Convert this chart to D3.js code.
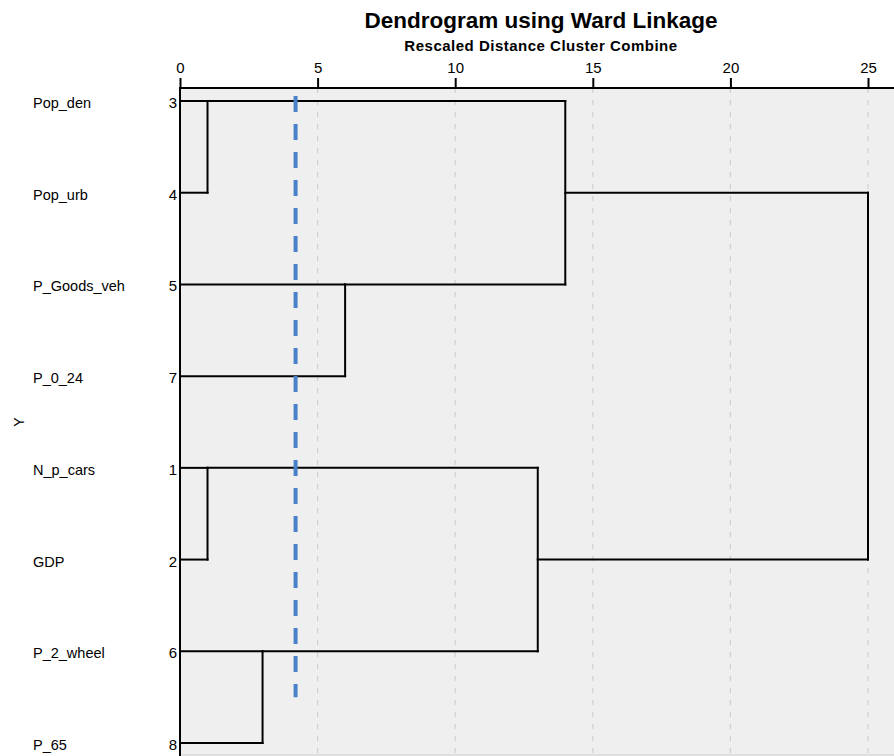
<!DOCTYPE html>
<html>
<head>
<meta charset="utf-8">
<script src="https://cdn.jsdelivr.net/npm/d3@7"></script>
<style>
  body { margin: 0; background: #fff; }
  svg { display: block; font-family: "Liberation Sans", Arial, sans-serif; }
</style>
</head>
<body>
<div id="chart"></div>
<script>
// Dendrogram using Ward linkage, rescaled distance 0-25

// leaf order, top to bottom
const caseIds = ["3", "4", "5", "7", "1", "2", "6", "8"];
const caseNames = ["Pop_den", "Pop_urb", "P_Goods_veh", "P_0_24", "N_p_cars", "GDP", "P_2_wheel", "P_65"];

// merges: [first cluster, second cluster, rescaled distance]
// clusters are named by their leaf ids, new clusters get "c" + index
const mergeA = ["3", "1", "6", "5", "c0", "c1", "c4"];
const mergeB = ["4", "2", "8", "7", "c3", "c2", "c5"];
const mergeDist = [1, 1, 3, 6, 14, 13, 25];

const xTicks = [0, 5, 10, 15, 20, 25];
const cutoff = 4.2;

const W = 894, H = 756;
const plot = { left: 180, top: 88, right: 902, bottom: 755 };

const svg = d3.select("#chart")
    .append("svg")
    .attr("width", W)
    .attr("height", H);

// scales
const x = d3.scaleLinear()
    .domain([0, 25])
    .range([180, 868]);

const y = d3.scalePoint()
    .domain(caseIds)
    .range([101, 743]);

// plot background
svg.append("rect")
    .attr("x", plot.left)
    .attr("y", plot.top)
    .attr("width", plot.right - plot.left)
    .attr("height", plot.bottom - plot.top)
    .attr("fill", "#efefef")
    .attr("stroke", "#c8c8c8")
    .attr("stroke-width", 1);

// vertical dashed grid lines
svg.append("g")
    .selectAll("line")
    .data(xTicks.filter(d => d > 0))
    .enter().append("line")
    .attr("x1", d => x(d))
    .attr("x2", d => x(d))
    .attr("y1", plot.top)
    .attr("y2", plot.bottom)
    .attr("stroke", "#cfcfcf")
    .attr("stroke-width", 1.2)
    .attr("stroke-dasharray", "5,7");

// top axis
const xAxis = svg.append("g")
    .attr("transform", `translate(0,${plot.top})`)
    .call(d3.axisTop(x).tickValues(xTicks).tickSize(10).tickSizeOuter(0).tickPadding(5));
xAxis.select(".domain")
    .attr("d", `M${plot.left},0H${W}`)
    .attr("stroke", "#000")
    .attr("stroke-width", 2);
xAxis.selectAll(".tick line").attr("stroke", "#000").attr("stroke-width", 2);
xAxis.selectAll(".tick text")
    .attr("fill", "#000")
    .style("font-size", "15px")
    .style("font-family", "'Liberation Sans', Arial, sans-serif");

// left axis line
svg.append("line")
    .attr("x1", plot.left)
    .attr("x2", plot.left)
    .attr("y1", plot.top - 1)
    .attr("y2", H)
    .attr("stroke", "#000")
    .attr("stroke-width", 2);

// case numbers
svg.append("g")
    .selectAll("text")
    .data(caseIds)
    .enter().append("text")
    .attr("x", 177)
    .attr("y", d => y(d) + 7)
    .attr("text-anchor", "end")
    .style("font-size", "15px")
    .attr("fill", "#000")
    .text(d => d);

// case names
svg.append("g")
    .selectAll("text")
    .data(caseNames)
    .enter().append("text")
    .attr("x", 33)
    .attr("y", (d, i) => y(caseIds[i]) + 7)
    .style("font-size", "14.5px")
    .attr("fill", "#000")
    .text(d => d);

// Y label
svg.append("text")
    .attr("transform", "translate(24,422) rotate(-90)")
    .attr("text-anchor", "middle")
    .style("font-size", "14px")
    .attr("fill", "#000")
    .text("Y");

// titles
svg.append("text")
    .attr("x", 541)
    .attr("y", 28)
    .attr("text-anchor", "middle")
    .style("font-size", "22.5px")
    .style("font-weight", "bold")
    .attr("fill", "#000")
    .text("Dendrogram using Ward Linkage");

svg.append("text")
    .attr("x", 541)
    .attr("y", 51)
    .attr("text-anchor", "middle")
    .style("font-size", "15px")
    .style("font-weight", "bold")
    .style("letter-spacing", "0.5px")
    .attr("fill", "#000")
    .text("Rescaled Distance Cluster Combine");

// build dendrogram links
// each cluster keeps the row its link leaves from and its merge height
const nodes = {};
caseIds.forEach((id, i) => { nodes[id] = { row: i, h: 0 }; });

const links = [];
mergeDist.forEach((d, i) => {
    const a = nodes[mergeA[i]], b = nodes[mergeB[i]];
    // horizontal from each child to the merge distance
    links.push({ x0: a.h, x1: d, r0: a.row, r1: a.row });
    links.push({ x0: b.h, x1: d, r0: b.row, r1: b.row });
    // vertical joining the two
    links.push({ x0: d, x1: d, r0: a.row, r1: b.row });
    nodes["c" + i] = { row: Math.floor((a.row + b.row) / 2), h: d };
});

const rowY = r => y(caseIds[0]) + r * y.step();

svg.append("g")
    .selectAll("line")
    .data(links)
    .enter().append("line")
    .attr("x1", d => x(d.x0))
    .attr("x2", d => x(d.x1))
    .attr("y1", d => rowY(d.r0))
    .attr("y2", d => rowY(d.r1))
    .attr("stroke", "#000")
    .attr("stroke-width", 2)
    .attr("stroke-linecap", "square");

// cut-off line
svg.append("line")
    .attr("x1", x(cutoff))
    .attr("x2", x(cutoff))
    .attr("y1", y("3") - 5)
    .attr("y2", (y("6") + y("8")) / 2)
    .attr("stroke", "#4a80c8")
    .attr("stroke-width", 4)
    .attr("stroke-dasharray", "16,12");
</script>
</body>
</html>
